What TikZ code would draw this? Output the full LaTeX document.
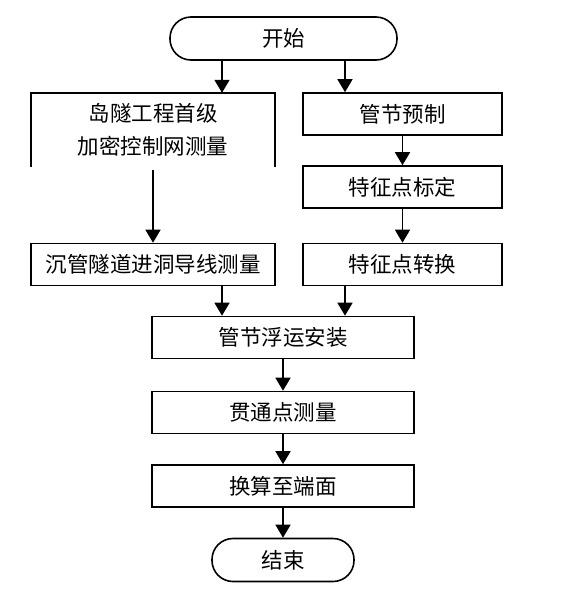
\documentclass[tikz,border=0pt]{standalone}
\usepackage{fontspec}
\setmainfont{Noto Sans CJK SC}
\usetikzlibrary{arrows.meta}
\begin{document}
\begin{tikzpicture}[x=1pt,y=1pt,
  every node/.style={font=\fontsize{21.5}{33}\selectfont, inner sep=0pt, align=center},
  box/.style={draw, line width=1.6pt, minimum width=#1, minimum height=42pt},
  term/.style={draw, line width=1.6pt, rounded corners=21pt, minimum width=#1, minimum height=43pt},
  arr/.style={line width=1.6pt, -{Triangle[width=15pt,length=13pt]}}]
\useasboundingbox[fill=white] (0,0) rectangle (575,-595);
\coordinate (xl) at (222,0);
\coordinate (xr) at (345,0);
\node[term=227pt] (start) at (283.5,-38.5) {开始};
\node[minimum width=244pt, minimum height=74pt] (b1) at (153,-130) {岛隧工程首级\\加密控制网测量};
\draw[line width=1.6pt] (b1.south west) -- (b1.north west) -- (b1.north east) -- (b1.south east);
\node[box=199pt] (b2) at (402.5,-114) {管节预制};
\node[box=199pt] (b3) at (402.5,-187) {特征点标定};
\node[box=199pt] (b4) at (402.5,-264.5) {特征点转换};
\node[box=244pt] (b5) at (153,-264.5) {沉管隧道进洞导线测量};
\node[box=262pt] (b6) at (283,-337.5) {管节浮运安装};
\node[box=262pt] (b7) at (283,-412.5) {贯通点测量};
\node[box=262pt] (b8) at (283,-486) {换算至端面};
\node[term=142pt] (end) at (283,-560) {结束};
\draw[arr] (start.south -| xl) -- (b1.north -| xl);
\draw[arr] (start.south -| xr) -- (b2.north -| xr);
\draw[arr] (b2) -- (b3);
\draw[arr] (b3) -- (b4);
\draw[arr] ([yshift=-3pt]b1.south) -- (b5);
\draw[arr] (b5.south -| xl) -- (b6.north -| xl);
\draw[arr] (b4.south -| xr) -- (b6.north -| xr);
\draw[arr] (b6) -- (b7);
\draw[arr] (b7) -- (b8);
\draw[arr] (b8) -- (end);
\end{tikzpicture}
\end{document}
